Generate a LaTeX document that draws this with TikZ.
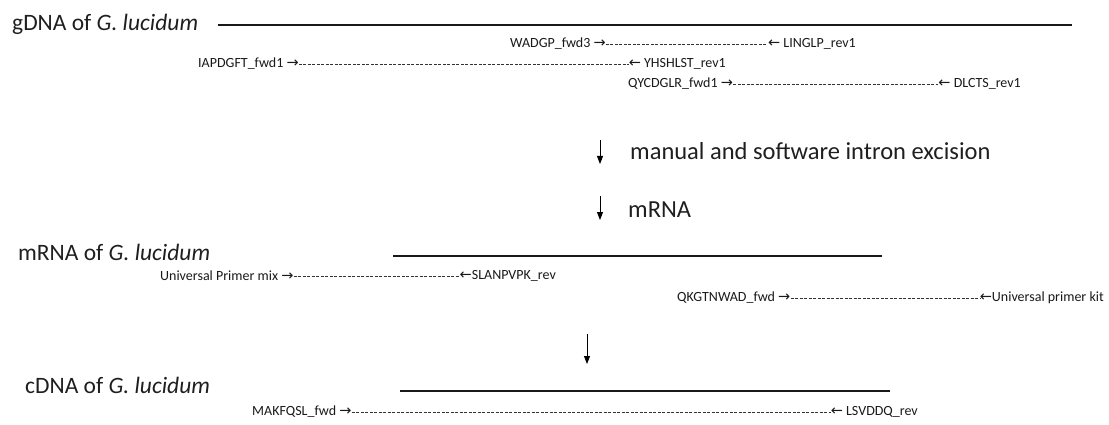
\documentclass[tikz,border=0pt]{standalone}
\usepackage{fontspec}
\setmainfont{Carlito}
\newfontfamily\arrfont{DejaVu Sans}
\usetikzlibrary{arrows.meta}
\newcommand{\ra}{{\arrfont\fontsize{14.5}{16}\selectfont →}}
\newcommand{\la}{{\arrfont\fontsize{14.5}{16}\selectfont ←}}
\begin{document}
\begin{tikzpicture}[x=1pt,y=-1pt,
  seqlabel/.style={inner sep=0pt,font=\fontsize{23.5}{26}\selectfont,text=black!88},
  primer/.style={inner sep=0pt,font=\fontsize{14}{16}\selectfont,text=black!90},
  steplabel/.style={inner sep=0pt,anchor=west,font=\fontsize{24.5}{27}\selectfont,text=black!88},
  dnaline/.style={line width=2.8pt,black!90},
  dashline/.style={line width=0.7pt,dash pattern=on 3pt off 1.5pt,black!80},
  downarrow/.style={line width=0.9pt,-{Triangle[width=6pt,length=8pt]}}]
\useasboundingbox (0,0) rectangle (1109,425);
% gDNA
\node[seqlabel,anchor=west] (gdna) at (12,24) {gDNA of \textit{G. lucidum}};
\coordinate (g1) at (218,25); \coordinate (g2) at (1072,25);
\draw[dnaline] (g1) -- (g2);
\node[primer,anchor=west] (wadgp) at (510,44) {WADGP\_fwd3 \ra};
\node[primer,anchor=east] (linglp) at (856,44) {\la\ LINGLP\_rev1};
\draw[dashline] (wadgp.east) -- (linglp.west);
\node[primer,anchor=west] (iapdgft) at (198,64) {IAPDGFT\_fwd1 \ra};
\node[primer,anchor=east] (yhshlst) at (726,64) {\la\ YHSHLST\_rev1};
\draw[dashline] (iapdgft.east) -- (yhshlst.west);
\node[primer,anchor=west] (qycdglr) at (628,84) {QYCDGLR\_fwd1 \ra};
\node[primer,anchor=east] (dlcts) at (1021,84) {\la\ DLCTS\_rev1};
\draw[dashline] (qycdglr.east) -- (dlcts.west);
% steps
\coordinate (a1s) at (600,140); \coordinate (a1e) at (600,164);
\draw[downarrow] (a1s) -- (a1e);
\node[steplabel] (step1) at (630,151) {manual and software intron excision};
\coordinate (a2s) at (600,196); \coordinate (a2e) at (600,220);
\draw[downarrow] (a2s) -- (a2e);
\node[steplabel] (step2) at (628,210) {mRNA};
% mRNA
\node[seqlabel,anchor=west] (mrna) at (18,252) {mRNA of \textit{G. lucidum}};
\coordinate (m1) at (393,256); \coordinate (m2) at (882,256);
\draw[dnaline] (m1) -- (m2);
\node[primer,anchor=west] (upm) at (160,276) {Universal Primer mix \ra};
\node[primer,anchor=east] (slan) at (556,276) {\la SLANPVPK\_rev};
\draw[dashline] (upm.east) -- (slan.west);
\node[primer,anchor=west] (qkgt) at (677,298) {QKGTNWAD\_fwd \ra\ };
\node[primer,anchor=east] (upk) at (1104,298) {\la Universal primer kit};
\draw[dashline] (qkgt.east) -- (upk.west);
% arrow to cDNA
\coordinate (a3s) at (587,334); \coordinate (a3e) at (587,364);
\draw[downarrow] (a3s) -- (a3e);
% cDNA
\node[seqlabel,anchor=west] (cdna) at (25,385) {cDNA of \textit{G. lucidum}};
\coordinate (c1) at (400,391); \coordinate (c2) at (890,391);
\draw[dnaline] (c1) -- (c2);
\node[primer,anchor=west] (makf) at (252,412) {MAKFQSL\_fwd \ra};
\node[primer,anchor=east] (lsvd) at (918,412) {\la\ LSVDDQ\_rev};
\draw[dashline] (makf.east) -- (lsvd.west);
\end{tikzpicture}
\end{document}
